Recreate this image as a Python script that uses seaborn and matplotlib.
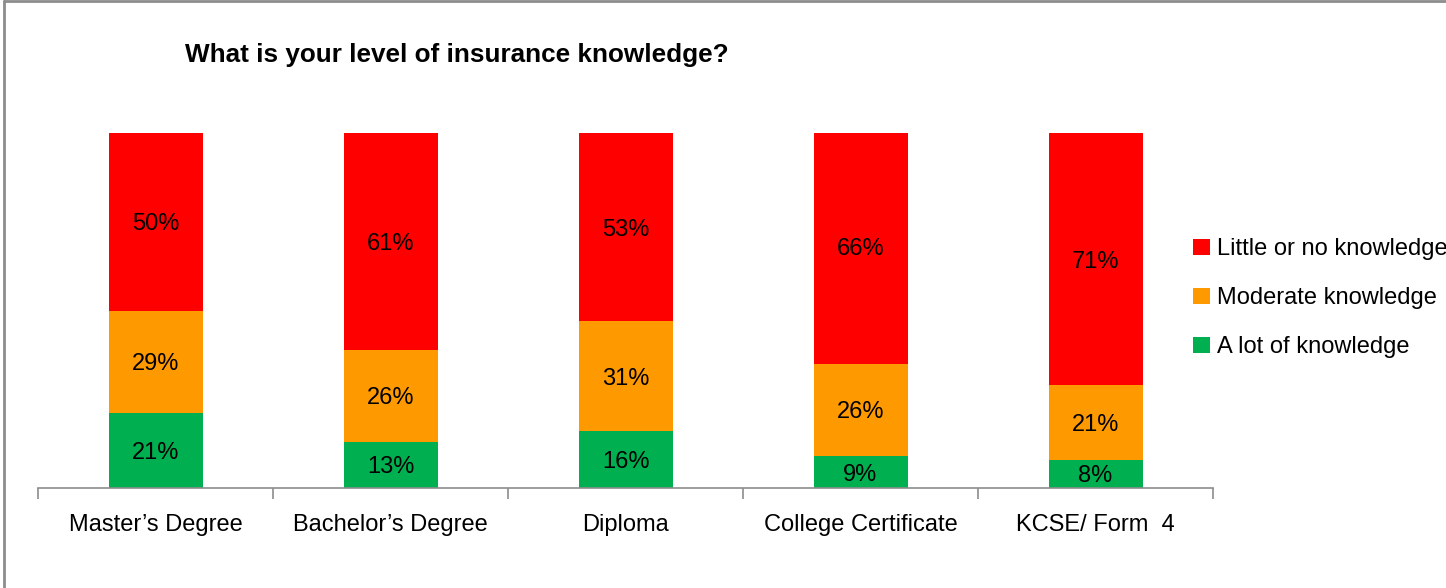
import numpy as np
import pandas as pd
import matplotlib
matplotlib.use("Agg")
import matplotlib.pyplot as plt
from matplotlib.lines import Line2D
from matplotlib.patches import Patch
import seaborn as sns

# data (percent)
levels = ["Master\u2019s Degree", "Bachelor\u2019s Degree", "Diploma",
          "College Certificate", "KCSE/ Form  4"]
a_lot = [21, 13, 16, 9, 8]
moderate = [29, 26, 31, 26, 21]
little = [50, 61, 53, 66, 71]
series_names = ["Little or no knowledge", "Moderate knowledge", "A lot of knowledge"]

colors = {"Little or no knowledge": "#FF0000",
          "Moderate knowledge": "#FF9900",
          "A lot of knowledge": "#00B050"}

df = pd.DataFrame({"level": levels, "a_lot": a_lot,
                   "moderate": moderate, "little": little})
df["cum_green"] = df["a_lot"]
df["cum_orange"] = df["a_lot"] + df["moderate"]
df["cum_red"] = df["cum_orange"] + df["little"]

sns.set_style("white")
plt.rcParams["font.family"] = ["Liberation Sans", "DejaVu Sans"]
plt.rcParams["text.color"] = "black"
plt.rcParams["xtick.color"] = "black"

fig = plt.figure(figsize=(14.46, 5.88), dpi=100)
ax = fig.add_axes([38 / 1446, 1 - 488 / 588, (1213 - 38) / 1446, 355 / 588])

# stacked bars: draw cumulative totals back to front
sns.barplot(data=df, x="level", y="cum_red", color=colors["Little or no knowledge"],
            width=0.4, linewidth=0, saturation=1, ax=ax)
sns.barplot(data=df, x="level", y="cum_orange", color=colors["Moderate knowledge"],
            width=0.4, linewidth=0, saturation=1, ax=ax)
sns.barplot(data=df, x="level", y="cum_green", color=colors["A lot of knowledge"],
            width=0.4, linewidth=0, saturation=1, ax=ax)

# segment labels
for i, row in df.iterrows():
    segs = [(0, row["a_lot"]), (row["cum_green"], row["moderate"]),
            (row["cum_orange"], row["little"])]
    for bottom, val in segs:
        ax.text(i, bottom + val / 2, f"{val}%", ha="center", va="center_baseline",
                fontsize=17, color="black")

ax.set_ylim(0, 100)
ax.set_xlim(-0.5, len(levels) - 0.5)
ax.set_xlabel("")
ax.set_ylabel("")
ax.set_yticks([])
for s in ["top", "right", "left"]:
    ax.spines[s].set_visible(False)
ax.spines["bottom"].set_color("#8c8c8c")
ax.spines["bottom"].set_linewidth(1.2)

ax.set_xticks(range(len(levels)))
ax.set_xticklabels(levels, fontsize=17)
ax.tick_params(axis="x", which="major", length=0, pad=19, labelcolor="black")
ax.set_xticks(np.arange(-0.5, len(levels)), minor=True)
ax.tick_params(axis="x", which="minor", length=8, width=1.2, color="#8c8c8c",
               direction="out", bottom=True)

# title
fig.text(185 / 1446, 1 - 55 / 588, "What is your level of insurance knowledge?",
         fontsize=18.8, fontweight="bold", ha="left", va="center", color="black")

# legend
handles = [Patch(facecolor=colors[n], edgecolor="none") for n in series_names]
fig.legend(handles, series_names, loc="upper left",
           bbox_to_anchor=(1184 / 1446, 1 - 229 / 588), frameon=False,
           fontsize=17, handlelength=0.7, handleheight=0.7, handletextpad=0.3,
           labelspacing=1.14, borderaxespad=0, labelcolor="black")

# chart-area border (top and left visible)
fig.add_artist(Line2D([0.003, 1.0], [0.999, 0.999], transform=fig.transFigure,
                      color="#8c8c8c", linewidth=2))
fig.add_artist(Line2D([0.003, 0.003], [0.0, 0.999], transform=fig.transFigure,
                      color="#8c8c8c", linewidth=2))

fig.savefig("out.png", dpi=100)
